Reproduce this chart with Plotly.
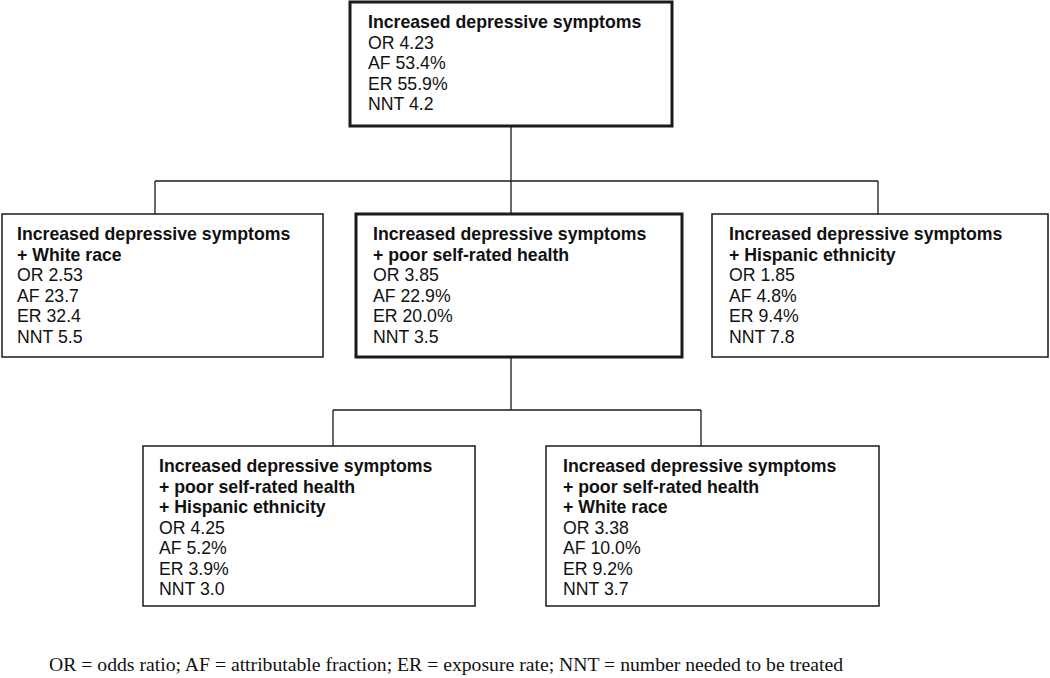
import plotly.graph_objects as go

# ---- data ----
titles = [
    ["Increased depressive symptoms"],
    ["Increased depressive symptoms", "+ White race"],
    ["Increased depressive symptoms", "+ poor self-rated health"],
    ["Increased depressive symptoms", "+ Hispanic ethnicity"],
    ["Increased depressive symptoms", "+ poor self-rated health", "+ Hispanic ethnicity"],
    ["Increased depressive symptoms", "+ poor self-rated health", "+ White race"],
]
OR = ["4.23", "2.53", "3.85", "1.85", "4.25", "3.38"]
AF = ["53.4%", "23.7", "22.9%", "4.8%", "5.2%", "10.0%"]
ER = ["55.9%", "32.4", "20.0%", "9.4%", "3.9%", "9.2%"]
NNT = ["4.2", "5.5", "3.5", "7.8", "3.0", "3.7"]
parents = [None, 0, 0, 0, 2, 2]
footnote = "OR = odds ratio; AF = attributable fraction; ER = exposure rate; NNT = number needed to be treated"

# ---- layout (pixel boxes: x0, y0, x1, y1) ----
boxes = [
    (350, 2, 672, 126),
    (2, 214, 323, 357),
    (356, 214, 682, 357),
    (712, 214, 1048, 357),
    (143, 446, 475, 606),
    (546, 446, 879, 606),
]
thick = [True, False, True, False, False, False]
anchor_x = [511, 155, 511, 878, 333, 701]   # where connectors meet boxes
bus_y = {0: 181, 2: 410}
text_dx = [17, 14, 16, 16, 15, 16]
first_dy = 20
line_gap = 20.5

W, H = 1050, 678
line_col = "#1a1a1a"
fig = go.Figure()
fig.add_trace(go.Scatter(x=[0, W], y=[0, H], mode="markers",
                         marker=dict(opacity=0), hoverinfo="skip", showlegend=False))

shapes = []
for i, (x0, y0, x1, y1) in enumerate(boxes):
    shapes.append(dict(type="rect", x0=x0, y0=y0, x1=x1, y1=y1,
                       line=dict(color=line_col, width=3 if thick[i] else 1.5),
                       fillcolor="white", layer="below"))

for p, by in bus_y.items():
    kids = [i for i, q in enumerate(parents) if q == p]
    px = anchor_x[p]
    shapes.append(dict(type="line", x0=px, x1=px, y0=boxes[p][3], y1=by,
                       line=dict(color=line_col, width=1.3)))
    xs = [anchor_x[k] for k in kids]
    shapes.append(dict(type="line", x0=min(xs), x1=max(xs), y0=by, y1=by,
                       line=dict(color=line_col, width=1.3)))
    for k in kids:
        shapes.append(dict(type="line", x0=anchor_x[k], x1=anchor_x[k], y0=by,
                           y1=boxes[k][1], line=dict(color=line_col, width=1.3)))

annotations = []
font_box = dict(family="Liberation Sans, Arial", size=17.7, color="#111111")
for i, (x0, y0, x1, y1) in enumerate(boxes):
    lines = [f"<b>{t}</b>" for t in titles[i]] + [
        f"OR {OR[i]}", f"AF {AF[i]}", f"ER {ER[i]}", f"NNT {NNT[i]}"]
    for j, ln in enumerate(lines):
        annotations.append(dict(x=x0 + text_dx[i], y=y0 + first_dy + j * line_gap,
                                xref="x", yref="y", text=ln, showarrow=False,
                                xanchor="left", yanchor="middle", align="left",
                                borderpad=0, font=font_box))
annotations.append(dict(x=48, y=664, xref="x", yref="y", text=footnote,
                        showarrow=False, xanchor="left", yanchor="middle",
                        borderpad=0,
                        font=dict(family="Liberation Serif, Times New Roman",
                                  size=19.7, color="#111111")))

fig.update_layout(width=W, height=H, margin=dict(l=0, r=0, t=0, b=0),
                  paper_bgcolor="white", plot_bgcolor="white",
                  shapes=shapes, annotations=annotations,
                  xaxis=dict(range=[0, W], visible=False, fixedrange=True),
                  yaxis=dict(range=[H, 0], visible=False, fixedrange=True))
fig.write_html("out.html", config={"displayModeBar": False, "staticPlot": True},
               post_script="document.body.style.margin='0';document.body.style.overflow='hidden';")
